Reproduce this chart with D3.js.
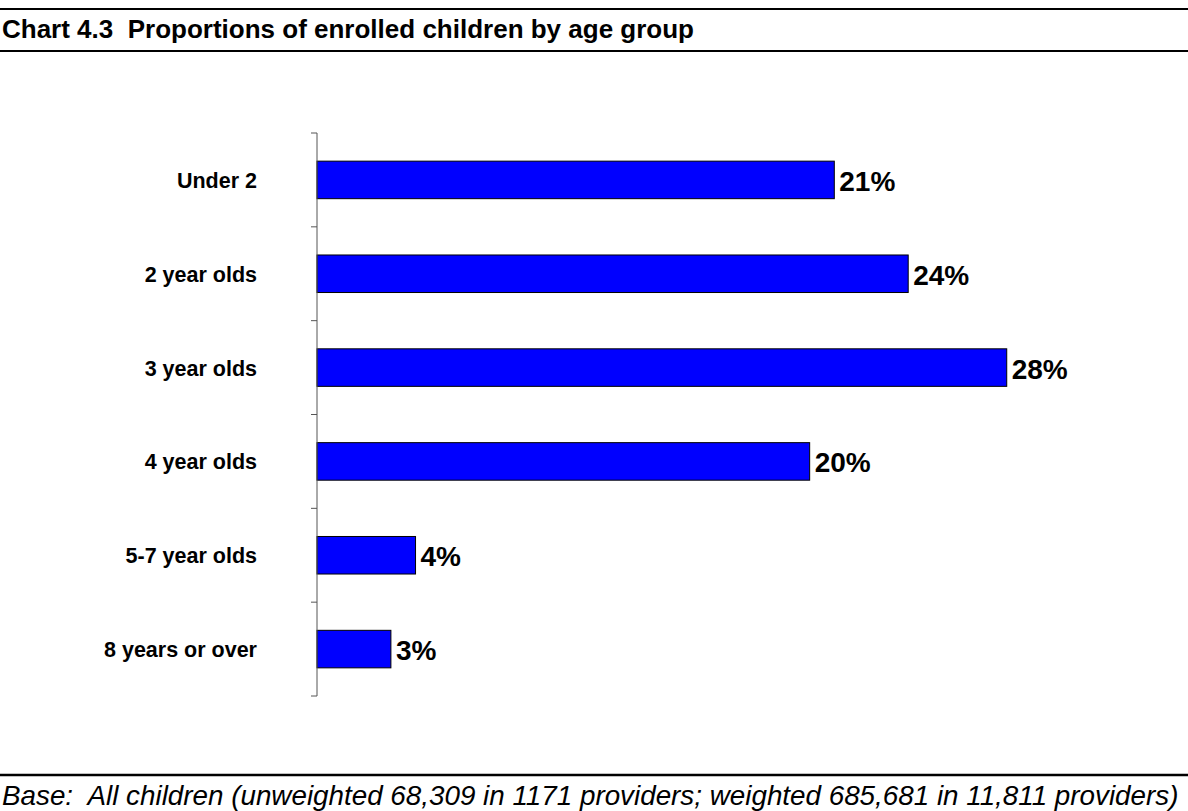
<!DOCTYPE html>
<html>
<head>
<meta charset="utf-8">
<script src="https://cdn.jsdelivr.net/npm/d3@7"></script>
<style>
  body { margin: 0; background: #fff; }
  svg { display: block; font-family: "Liberation Sans", Arial, sans-serif; }
</style>
</head>
<body>
<svg id="chart" width="1188" height="811"></svg>
<script>
const categories = ["Under 2", "2 year olds", "3 year olds", "4 year olds", "5-7 year olds", "8 years or over"];
const values = [21, 24, 28, 20, 4, 3];
const titleText = "Chart 4.3  Proportions of enrolled children by age group";
const baseText = "Base:  All children (unweighted 68,309 in 1171 providers; weighted 685,681 in 11,811 providers)";

const W = 1188, H = 811;
const svg = d3.select("#chart");

// title block between two rules
svg.append("line").attr("x1", 0).attr("x2", W).attr("y1", 9).attr("y2", 9)
  .attr("stroke", "#000").attr("stroke-width", 2);
svg.append("line").attr("x1", 0).attr("x2", W).attr("y1", 51).attr("y2", 51)
  .attr("stroke", "#000").attr("stroke-width", 2);
svg.append("text").attr("x", 2).attr("y", 38)
  .attr("font-size", 26).attr("font-weight", "bold").attr("xml:space", "preserve")
  .text(titleText);

const x = d3.scaleLinear().domain([0, 30]).range([317, 1056]);
const y = d3.scaleBand().domain(categories).range([133, 696]).paddingInner(0.6).paddingOuter(0.3);

// bars
svg.append("g").selectAll("rect")
  .data(categories)
  .join("rect")
  .attr("x", x(0))
  .attr("y", d => y(d))
  .attr("width", (d, i) => x(values[i]) - x(0))
  .attr("height", y.bandwidth())
  .attr("fill", "#0000ff")
  .attr("stroke", "#000")
  .attr("stroke-width", 1);

// value labels
svg.append("g").selectAll("text")
  .data(categories)
  .join("text")
  .attr("x", (d, i) => x(values[i]) + 5)
  .attr("y", d => y(d) + y.bandwidth() / 2 + 11)
  .attr("font-size", 28)
  .attr("font-weight", "bold")
  .text((d, i) => values[i] + "%");

// category axis with ticks between bands
const axisG = svg.append("g");
axisG.append("line").attr("x1", 317).attr("x2", 317).attr("y1", 133).attr("y2", 696)
  .attr("stroke", "#555").attr("stroke-width", 1);
d3.range(categories.length + 1).forEach(i => {
  const ty = 133 + i * (696 - 133) / categories.length;
  axisG.append("line").attr("x1", 311).attr("x2", 317).attr("y1", ty).attr("y2", ty)
    .attr("stroke", "#555").attr("stroke-width", 1);
});
axisG.selectAll("text.cat")
  .data(categories)
  .join("text")
  .attr("class", "cat")
  .attr("x", 257)
  .attr("y", d => y(d) + y.bandwidth() / 2 + 8)
  .attr("text-anchor", "end")
  .attr("font-size", 21.5)
  .attr("font-weight", "bold")
  .text(d => d);

// base note
svg.append("line").attr("x1", 0).attr("x2", W).attr("y1", 775).attr("y2", 775)
  .attr("stroke", "#000").attr("stroke-width", 2.5);
svg.append("text").attr("x", 2).attr("y", 805)
  .attr("font-size", 27.8).attr("font-style", "italic").attr("xml:space", "preserve")
  .text(baseText);
</script>
</body>
</html>
